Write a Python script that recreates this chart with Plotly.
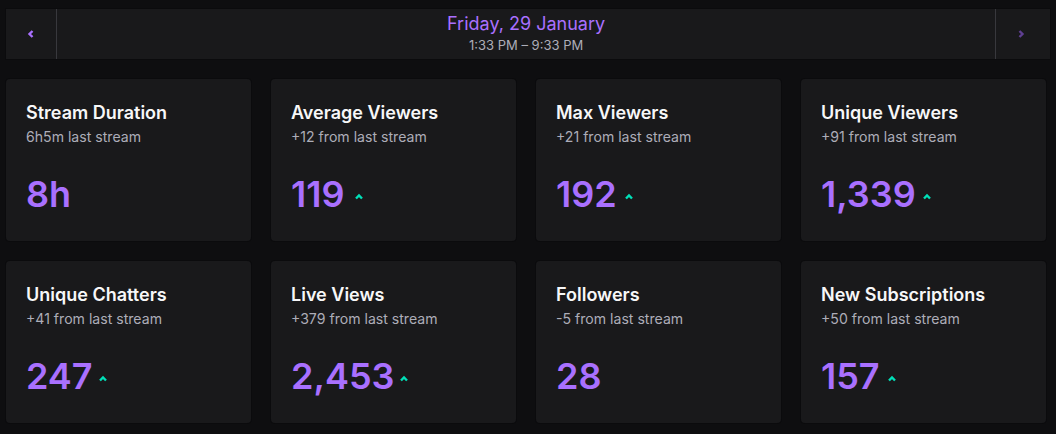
import plotly.graph_objects as go

W = 1056
H = 434
BG = "#0e0e10"
CARD = "#19191b"
SHADOW = "#0b0b0d"
PURPLE = "#a970ff"
TEAL = "#00e0b8"
MUTED = "#adadb8"
FONT = "Inter"

DATE_LABEL = "Friday, 29 January"
TIME_LABEL = "1:33 PM – 9:33 PM"

titles = ["Stream Duration", "Average Viewers", "Max Viewers", "Unique Viewers",
          "Unique Chatters", "Live Views", "Followers", "New Subscriptions"]
subtitles = ["6h5m last stream", "+12 from last stream", "+21 from last stream", "+91 from last stream",
             "+41 from last stream", "+379 from last stream", "-5 from last stream", "+50 from last stream"]
values = ["8h", "119", "192", "1,339", "247", "2,453", "28", "157"]
went_up = [False, True, True, True, True, True, False, True]
# where the little chevron sits after the number, from the card's left edge
arrow_offset = [0, 88, 93, 126, 97, 133, 0, 91]

CARD_W = 245
CARD_H = 162
CARD_X = [6, 271, 536, 801]
CARD_Y = [79, 261]


def rounded(x0, y0, x1, y1, r=4):
    return (f"M{x0+r},{y0} L{x1-r},{y0} Q{x1},{y0} {x1},{y0+r} L{x1},{y1-r} Q{x1},{y1} {x1-r},{y1} "
            f"L{x0+r},{y1} Q{x0},{y1} {x0},{y1-r} L{x0},{y0+r} Q{x0},{y0} {x0+r},{y0} Z")


def label(x, y, text, size, color, weight=400, anchor="left"):
    fig.add_annotation(x=x, y=y, text=text, showarrow=False, xanchor=anchor, yanchor="middle",
                       align=anchor, borderpad=0, borderwidth=0,
                       font=dict(family=FONT, size=size, color=color, weight=weight))


def chevron(cx, cy, points, color):
    # points is "up", "left" or "right"
    s = 3
    if points == "up":
        d = f"M{cx-s},{cy+s/2} L{cx},{cy-s/2} L{cx+s},{cy+s/2}"
    elif points == "left":
        d = f"M{cx+s/2},{cy-s} L{cx-s/2},{cy} L{cx+s/2},{cy+s}"
    else:
        d = f"M{cx-s/2},{cy-s} L{cx+s/2},{cy} L{cx-s/2},{cy+s}"
    fig.add_shape(type="path", path=d, line=dict(color=color, width=2.4), layer="above")


fig = go.Figure()

# date bar at the top
fig.add_shape(type="rect", x0=5, x1=1051, y0=8, y1=60, fillcolor=SHADOW, line_width=0, layer="below")
fig.add_shape(type="rect", x0=6, x1=1050, y0=9, y1=59, fillcolor=CARD, line_width=0, layer="below")
fig.add_shape(type="line", x0=56.5, x1=56.5, y0=9, y1=59, line=dict(color="#38383d", width=1))
fig.add_shape(type="line", x0=995.5, x1=995.5, y0=9, y1=59, line=dict(color="#38383d", width=1))
chevron(31, 34, "left", PURPLE)
chevron(1021, 34, "right", "#5f3f92")
label(526, 23.5, DATE_LABEL, 18, PURPLE, anchor="center")
label(526, 45, TIME_LABEL, 13, MUTED, anchor="center")

# stat cards, four to a row
for i, title in enumerate(titles):
    x0 = CARD_X[i % 4]
    y0 = CARD_Y[i // 4]
    fig.add_shape(type="path", path=rounded(x0 - 1, y0 - 1, x0 + CARD_W + 1, y0 + CARD_H + 1, r=5),
                  fillcolor=SHADOW, line_width=0, layer="below")
    fig.add_shape(type="path", path=rounded(x0, y0, x0 + CARD_W, y0 + CARD_H),
                  fillcolor=CARD, line_width=0, layer="below")
    label(x0 + 20, y0 + 33.5, title, 18, "#f7f7f8", 600)
    label(x0 + 20, y0 + 57.5, subtitles[i], 14.1, MUTED)
    label(x0 + 20, y0 + 114.5, values[i], 36, PURPLE, 600)
    if went_up[i]:
        chevron(x0 + arrow_offset[i], y0 + 118, "up", TEAL)

fig.update_xaxes(range=[0, W], visible=False, fixedrange=True)
fig.update_yaxes(range=[H, 0], visible=False, fixedrange=True)
fig.update_layout(width=W, height=H, margin=dict(l=0, r=0, t=0, b=0), paper_bgcolor=BG, plot_bgcolor=BG,
                  showlegend=False)

fig.write_html("out.html", config={"displayModeBar": False},
               post_script="document.body.style.margin='0';document.body.style.background='#0e0e10';")
